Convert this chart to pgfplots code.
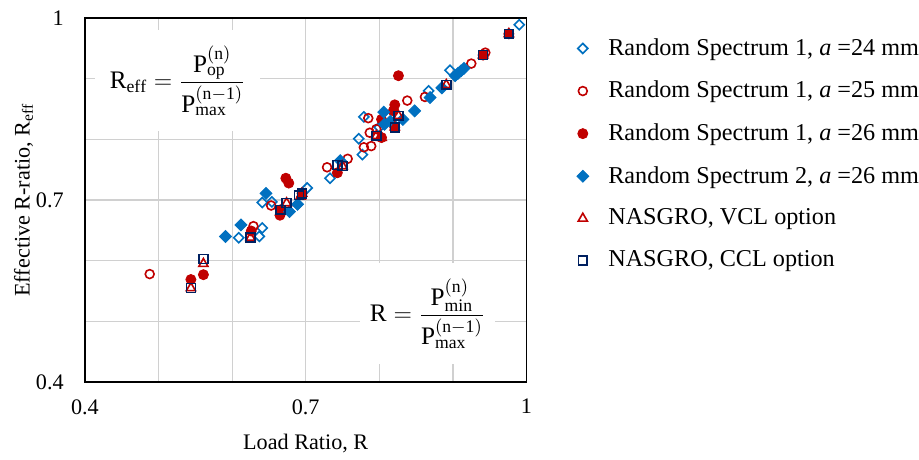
\documentclass[border=0pt]{standalone}
\usepackage{fontspec}
\setmainfont{Liberation Serif}
\usepackage{pgfplots}
\pgfplotsset{compat=1.18}
\definecolor{cblue}{HTML}{0070C0}
\definecolor{cred}{HTML}{C00000}
\definecolor{cnavy}{HTML}{002060}
\definecolor{cgrid}{HTML}{D0D0D0}
\begin{document}
\begin{tikzpicture}
\begin{axis}[
  scale only axis,
  width=219pt, height=180.5pt,
  xmin=0.4, xmax=1, ymin=0.4, ymax=1,
  xtick={0.4,0.7,1}, ytick={0.4,0.7,1},
  minor xtick={0.5,0.6,0.8,0.9}, minor ytick={0.5,0.6,0.8,0.9},
  grid=both,
  major grid style={cgrid, line width=0.6pt},
  minor grid style={cgrid, line width=0.6pt},
  major tick length=0pt, minor tick length=0pt,
  axis line style={black, line width=0.9pt},
  /pgf/number format/assume math mode=true,
  tick label style={font=\fontsize{11}{13}\selectfont},
  xticklabel style={yshift=-5pt},
  yticklabel style={xshift=-7pt},
  xlabel={Load Ratio, R},
  ylabel={Effective R-ratio, R\textsubscript{eff}},
  label style={font=\fontsize{11}{13}\selectfont},
  xlabel style={yshift=-3pt},
  ylabel style={at={(axis description cs:-0.139,0.5)}, anchor=center},
  legend style={draw=none, at={(1.113,0.956)}, anchor=north west, inner sep=0pt,
    nodes={inner xsep=0pt},
    font=\fontsize{12}{14.5}\selectfont, row sep=7.3pt,
    legend cell align=left},
  legend image code/.code={\draw[#1] plot coordinates {(0.2cm,0cm)}; \path (0.63cm,0cm);},
  clip=false,
]
% open diamond: RS1 a=24
\addplot[only marks, mark=square, mark size=1.75pt, cblue, line width=0.8pt, mark options={rotate=45}] coordinates {
(0.990,0.989) (0.896,0.914) (0.867,0.880) (0.779,0.837) (0.772,0.801)
(0.777,0.775) (0.733,0.736) (0.702,0.720) (0.641,0.696) (0.654,0.697)
(0.641,0.654) (0.609,0.638) (0.637,0.640) (0.800,0.820)
};
\addlegendentry{Random Spectrum 1, \textit{a} =24 mm}
% open circle: RS1 a=25
\addplot[only marks, mark=o, mark size=2.2pt, cred, line width=0.8pt] coordinates {
(0.944,0.943) (0.925,0.925) (0.862,0.870) (0.838,0.864) (0.785,0.835)
(0.787,0.811) (0.796,0.817) (0.789,0.789) (0.779,0.787) (0.757,0.768)
(0.729,0.754) (0.653,0.691) (0.629,0.657) (0.488,0.578)
};
\addlegendentry{Random Spectrum 1, \textit{a} =25 mm}
% filled circle: RS1 a=26
\addplot[only marks, mark=*, mark size=2.5pt, cred] coordinates {
(0.976,0.974) (0.941,0.939) (0.826,0.905) (0.821,0.857) (0.819,0.847)
(0.803,0.833) (0.803,0.803) (0.743,0.745) (0.673,0.736) (0.677,0.728)
(0.695,0.711) (0.665,0.675) (0.666,0.684) (0.626,0.649) (0.561,0.577)
(0.544,0.569) (0.821,0.820)
};
\addlegendentry{Random Spectrum 1, \textit{a} =26 mm}
% filled diamond: RS2 a=26
\addplot[only marks, mark=square*, mark size=2.1pt, cblue, mark options={rotate=45}] coordinates {
(0.903,0.905) (0.907,0.909) (0.911,0.913) (0.915,0.917) (0.885,0.885)
(0.869,0.869) (0.848,0.847) (0.806,0.845) (0.832,0.833) (0.807,0.825)
(0.747,0.765) (0.646,0.711) (0.678,0.681) (0.689,0.693) (0.612,0.659)
(0.591,0.640) (0.815,0.830)
};
\addlegendentry{Random Spectrum 2, \textit{a} =26 mm}
% triangle: NASGRO VCL
\addplot[only marks, mark=triangle, mark size=2.6pt, cred, line width=0.8pt] coordinates {
(0.976,0.974) (0.941,0.939) (0.891,0.890) (0.826,0.839) (0.821,0.820)
(0.803,0.803) (0.796,0.806) (0.750,0.756) (0.695,0.711) (0.674,0.695)
(0.625,0.638) (0.561,0.595) (0.544,0.555) (0.693,0.706)
};
\addlegendentry{NASGRO, VCL option}
% square: NASGRO CCL
\addplot[only marks, mark=square, mark size=2.2pt, cnavy, line width=0.8pt] coordinates {
(0.976,0.974) (0.941,0.939) (0.891,0.890) (0.826,0.839) (0.821,0.820)
(0.796,0.806) (0.750,0.756) (0.743,0.758) (0.695,0.711) (0.691,0.708)
(0.674,0.695) (0.666,0.684) (0.625,0.638) (0.561,0.603) (0.544,0.555)
};
\addlegendentry{NASGRO, CCL option}
\node[fill=white, minimum width=82pt, minimum height=50pt, inner sep=0pt,
  font=\fontsize{12.5}{15}\selectfont] at (rel axis cs:0.21,0.828)
  {$\mathrm{R}_{\mathrm{eff}} = \displaystyle\frac{\mathrm{P}_{\mathrm{op}}^{(\mathrm{n})}}{\mathrm{P}_{\mathrm{max}}^{(\mathrm{n-1})}}$};
\node[fill=white, minimum width=67pt, minimum height=50pt, inner sep=0pt,
  font=\fontsize{12.5}{15}\selectfont] at (rel axis cs:0.776,0.188)
  {$\mathrm{R} = \displaystyle\frac{\mathrm{P}_{\mathrm{min}}^{(\mathrm{n})}}{\mathrm{P}_{\mathrm{max}}^{(\mathrm{n-1})}}$};
\end{axis}
\path (current bounding box.north west) ++(-3.6pt,2pt);
\end{tikzpicture}
\end{document}
